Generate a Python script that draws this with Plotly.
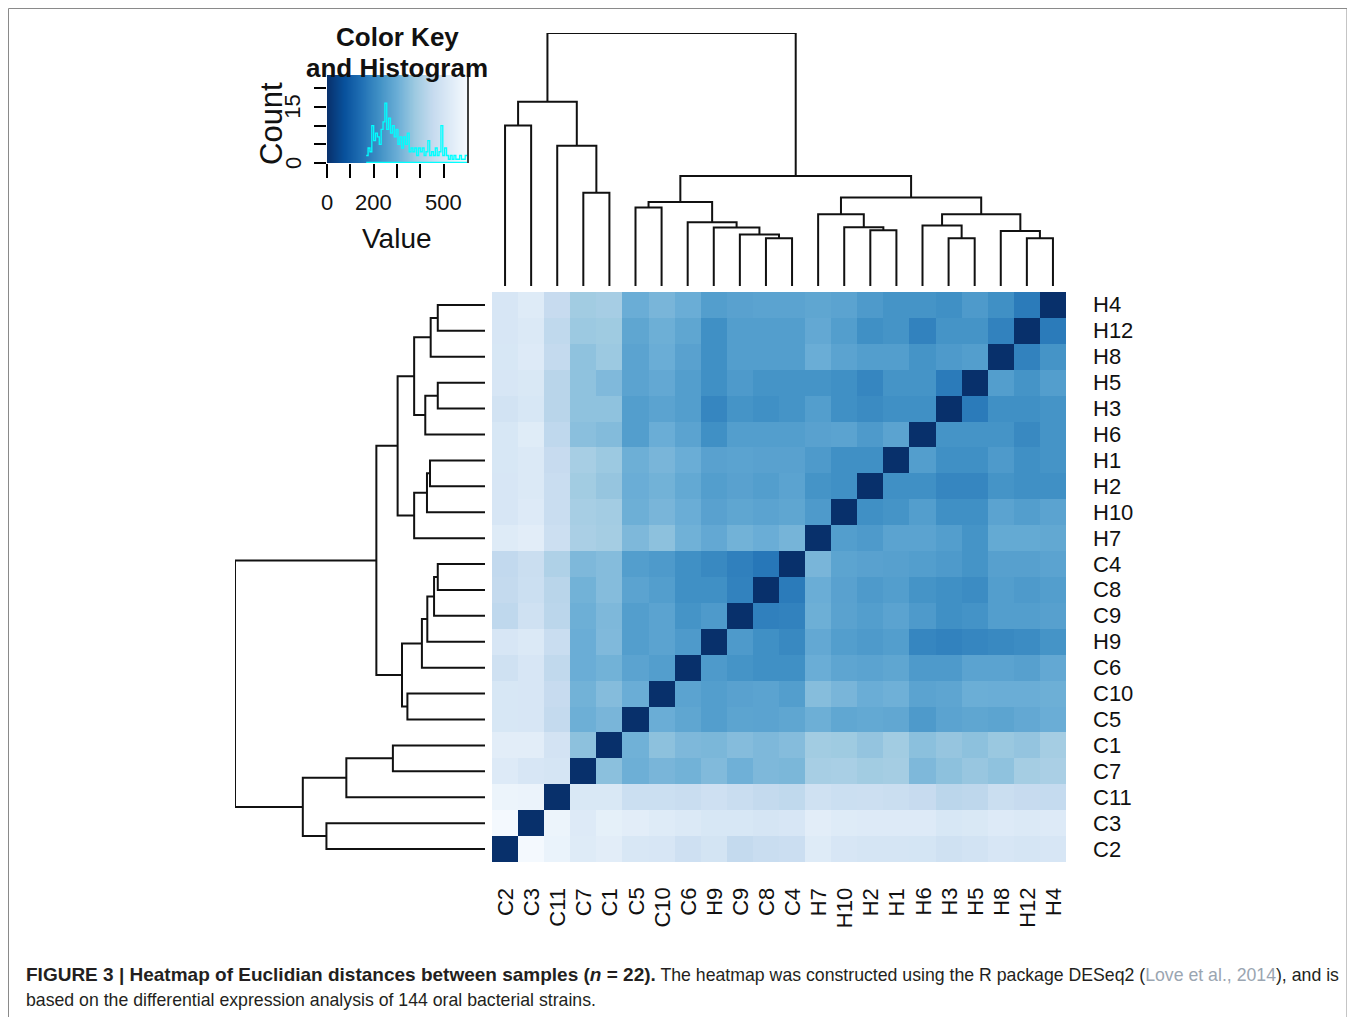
import numpy as np
import plotly.graph_objects as go

# the page body adds an 8px margin, so the figure is drawn 8px smaller and
# all reference pixel positions are shifted by that offset
OFF = 8
W, H = 1355 - OFF, 1017 - OFF

# ---------------- data ----------------
samples = ["C2", "C3", "C11", "C7", "C1", "C5", "C10", "C6", "H9", "C9", "C8", "C4",
           "H7", "H10", "H2", "H1", "H6", "H3", "H5", "H8", "H12", "H4"]

# Euclidean distances, one row per sample (columns in the same order as `samples`)
row_C2  = [0, 595, 565, 528, 540, 510, 505, 478, 495, 450, 462, 468, 528, 505, 500, 500, 498, 482, 492, 505, 500, 505]
row_C3  = [595, 0, 570, 525, 550, 540, 530, 520, 508, 508, 500, 505, 540, 530, 525, 525, 525, 508, 512, 525, 520, 525]
row_C11 = [570, 568, 0, 512, 512, 470, 470, 462, 478, 462, 450, 442, 482, 470, 473, 465, 455, 432, 437, 465, 455, 452]
row_C7  = [525, 505, 500, 0, 350, 305, 322, 312, 335, 308, 330, 326, 395, 398, 385, 390, 330, 352, 368, 355, 390, 400]
row_C1  = [540, 540, 493, 352, 0, 310, 352, 330, 325, 340, 330, 340, 385, 380, 362, 385, 350, 365, 352, 372, 362, 390]
row_C5  = [508, 505, 450, 305, 322, 0, 300, 280, 258, 275, 273, 280, 305, 282, 288, 283, 248, 273, 280, 275, 287, 300]
row_C10 = [508, 505, 455, 312, 340, 300, 0, 273, 258, 268, 273, 258, 342, 322, 300, 308, 273, 278, 302, 300, 300, 305]
row_C6  = [480, 505, 443, 300, 312, 273, 258, 0, 248, 232, 222, 222, 300, 278, 273, 280, 248, 248, 273, 273, 265, 287]
row_H9  = [505, 518, 462, 300, 333, 258, 273, 248, 0, 248, 222, 205, 287, 258, 248, 258, 200, 190, 200, 205, 212, 232]
row_C9  = [440, 482, 432, 305, 330, 258, 273, 232, 248, 0, 185, 190, 305, 270, 258, 273, 248, 222, 230, 258, 258, 265]
row_C8  = [450, 470, 428, 312, 340, 273, 258, 222, 222, 190, 0, 175, 300, 268, 248, 258, 232, 222, 212, 258, 248, 258]
row_C4  = [445, 465, 410, 330, 340, 258, 248, 222, 205, 185, 165, 0, 322, 275, 268, 265, 258, 248, 232, 265, 265, 273]
row_H7  = [528, 540, 472, 400, 390, 330, 352, 310, 287, 312, 300, 318, 0, 258, 248, 273, 273, 258, 232, 290, 290, 285]
row_H10 = [505, 525, 462, 395, 386, 305, 322, 300, 268, 280, 273, 280, 248, 0, 222, 232, 258, 222, 222, 273, 258, 273]
row_H2  = [505, 520, 462, 385, 365, 300, 312, 288, 258, 268, 258, 273, 232, 222, 0, 222, 222, 200, 200, 232, 222, 222]
row_H1  = [508, 518, 455, 395, 375, 305, 322, 300, 268, 273, 268, 268, 248, 222, 222, 0, 258, 222, 222, 248, 222, 232]
row_H6  = [508, 532, 440, 348, 338, 258, 300, 273, 222, 258, 258, 258, 268, 273, 248, 273, 0, 232, 232, 232, 205, 232]
row_H3  = [490, 508, 428, 355, 355, 258, 273, 258, 200, 232, 222, 232, 258, 222, 210, 222, 222, 0, 175, 222, 222, 232]
row_H5  = [505, 512, 428, 355, 333, 273, 287, 258, 222, 248, 232, 232, 232, 222, 200, 232, 232, 175, 0, 258, 232, 258]
row_H8  = [508, 525, 450, 355, 375, 273, 300, 268, 222, 258, 258, 258, 300, 273, 258, 258, 232, 248, 258, 0, 190, 232]
row_H12 = [505, 518, 442, 375, 380, 280, 305, 280, 222, 258, 258, 258, 287, 258, 222, 232, 190, 232, 232, 190, 0, 175]
row_H4  = [505, 528, 455, 385, 393, 300, 322, 300, 258, 268, 273, 273, 280, 273, 248, 232, 232, 222, 248, 222, 175, 0]

# hierarchical clustering merges (int = index of an earlier merge)
merge_a = ["C2", "C7", "C11", 0, "C5", "C8", "C9", "H9", "C6", 4, "H2", "H10", "H7",
           "H3", "H6", "H12", "H8", 14, 12, 9, 3]
merge_b = ["C3", "C1", 1, 2, "C10", "C4", 5, 6, 7, 8, "H1", 10, 11,
           "H5", 13, "H4", 15, 16, 17, 18, 19]
merge_h = [470, 273, 411, 540, 230, 140, 151, 171, 187, 246, 163, 172, 210,
           140, 177, 140, 161, 210, 259, 322, 741]

# colour-key histogram (counts per bin of the distance values)
hist_edges = [168, 176, 184, 192, 200, 208, 216, 224, 232, 240, 248, 256, 264, 272, 280,
              288, 296, 304, 312, 320, 328, 336, 344, 352, 360, 368, 376, 384, 392, 400,
              408, 416, 424, 432, 440, 448, 456, 464, 472, 480, 488, 496, 504, 512, 520,
              528, 536, 544, 552, 560, 568, 576, 584, 592, 600]
hist_counts = [2, 4, 3, 10, 6, 8, 7, 5, 9, 11, 16, 9, 12, 8, 10, 7, 9, 5, 7, 4, 7, 5, 8, 3,
               4, 3, 4, 2, 4, 3, 4, 2, 3, 6, 2, 3, 2, 4, 2, 3, 10, 2, 4, 2, 1, 2, 1, 2, 1,
               1, 2, 1, 1, 2]

key_ticks = [0, 100, 200, 300, 400, 500]
key_tick_text = ["0", "", "200", "", "", "500"]
count_ticks = [0, 5, 10, 15, 20]
count_tick_text = ["0", "", "", "15", ""]
ZMAX = 604

blues_r = ["#08306B", "#08519C", "#2171B5", "#4292C6", "#6BAED6",
           "#9ECAE1", "#C6DBEF", "#DEEBF7", "#F7FBFF"]
colorscale = [[i / 8, c] for i, c in enumerate(blues_r)]

# ---------------- helpers ----------------
def px_x(p):
    return (p - OFF) / W

def px_y(p):
    return 1 - (p - OFF) / H

z = [row_C2, row_C3, row_C11, row_C7, row_C1, row_C5, row_C10, row_C6, row_H9, row_C9, row_C8,
     row_C4, row_H7, row_H10, row_H2, row_H1, row_H6, row_H3, row_H5, row_H8, row_H12, row_H4]

# dendrogram segments
pos = {s: i for i, s in enumerate(samples)}
node_x, node_h = [], []
seg_pos, seg_h = [], []


def get(c):
    if isinstance(c, int):
        return node_x[c], node_h[c]
    return pos[c], 0.0


for a, b, h in zip(merge_a, merge_b, merge_h):
    xa, ha = get(a)
    xb, hb = get(b)
    seg_pos += [xa, xa, xb, xb, None]
    seg_h += [ha, h, h, hb, None]
    node_x.append((xa + xb) / 2)
    node_h.append(h)

FONT = "Liberation Sans, Arial, sans-serif"
INK = "#111111"
LINE = dict(color=INK, width=2)

# layout geometry (reference pixels)
HM_L, HM_R, HM_T, HM_B = 492, 1066, 292, 862
TD_T, TD_B = 33, 286
LD_L, LD_R = 235, 485
K_L, K_R, K_T, K_B = 327, 468, 75, 163

fig = go.Figure()

fig.add_trace(go.Heatmap(
    z=z, x=list(range(len(samples))), y=list(range(len(samples))),
    colorscale=colorscale, zmin=0, zmax=ZMAX, showscale=False,
    xaxis="x", yaxis="y", hoverinfo="skip"))

fig.add_trace(go.Scatter(x=seg_pos, y=seg_h, mode="lines", line=LINE,
                         xaxis="x2", yaxis="y2", hoverinfo="skip", showlegend=False))
fig.add_trace(go.Scatter(x=seg_h, y=seg_pos, mode="lines", line=LINE,
                         xaxis="x3", yaxis="y3", hoverinfo="skip", showlegend=False))

key_vals = np.linspace(0, ZMAX, 256)
fig.add_trace(go.Heatmap(z=[key_vals, key_vals], x=key_vals, y=[0, 23.5],
                         colorscale=colorscale, zmin=0, zmax=ZMAX, showscale=False,
                         xaxis="x4", yaxis="y4", hoverinfo="skip"))
fig.add_trace(go.Scatter(x=hist_edges, y=hist_counts + [hist_counts[-1]], mode="lines",
                         line=dict(color="#00FFFF", width=1.3, shape="hv"),
                         xaxis="x4", yaxis="y4", hoverinfo="skip", showlegend=False))
fig.add_trace(go.Scatter(x=[hist_edges[0], hist_edges[-1]], y=[0.15, 0.15], mode="lines",
                         line=dict(color="#00FFFF", width=1.3),
                         xaxis="x4", yaxis="y4", hoverinfo="skip", showlegend=False))

n = len(samples)
hidden = dict(showgrid=False, zeroline=False, showticklabels=False, ticks="", showline=False)

fig.update_layout(
    width=W, height=H, margin=dict(l=0, r=0, t=0, b=0),
    paper_bgcolor="white", plot_bgcolor="rgba(0,0,0,0)", showlegend=False,
    xaxis=dict(domain=[px_x(HM_L), px_x(HM_R)], range=[-0.5, n - 0.5], anchor="y", **hidden),
    yaxis=dict(domain=[px_y(HM_B), px_y(HM_T)], range=[-0.5, n - 0.5], anchor="x", **hidden),
    xaxis2=dict(domain=[px_x(HM_L), px_x(HM_R)], range=[-0.5, n - 0.5], anchor="y2", **hidden),
    yaxis2=dict(domain=[px_y(TD_B), px_y(TD_T)], range=[0, merge_h[-1]], anchor="x2", **hidden),
    xaxis3=dict(domain=[px_x(LD_L), px_x(LD_R)], range=[merge_h[-1], 0], anchor="y3", **hidden),
    yaxis3=dict(domain=[px_y(HM_B), px_y(HM_T)], range=[-0.5, n - 0.5], anchor="x3", **hidden),
    xaxis4=dict(domain=[px_x(K_L), px_x(K_R)], range=[0, ZMAX], anchor="y4",
                showgrid=False, zeroline=False, showticklabels=False, showline=False,
                ticks="outside", ticklen=14, tickwidth=1.5, tickcolor="black",
                tickvals=key_ticks),
    yaxis4=dict(domain=[px_y(K_B), px_y(K_T)], range=[0, 23.5], anchor="x4",
                showgrid=False, zeroline=False, showticklabels=False, showline=False,
                ticks="outside", ticklen=12, tickwidth=1.5, tickcolor="black",
                tickvals=count_ticks),
)

shapes = [
    dict(type="rect", xref="paper", yref="paper", x0=px_x(8.5), x1=px_x(1347), y0=px_y(1040), y1=px_y(8.5),
         line=dict(color="#8a8a8a", width=1), fillcolor="rgba(0,0,0,0)"),
    dict(type="line", xref="paper", yref="paper", x0=px_x(K_R), x1=px_x(K_R), y0=px_y(K_B), y1=px_y(K_T + 2),
         line=dict(color="black", width=1.5)),
]

ann = []
cw = (HM_R - HM_L) / n
for i, s in enumerate(samples):
    # row labels (right side)
    ann.append(dict(x=px_x(1091), y=px_y(HM_B - (i + 0.5) * (HM_B - HM_T) / n), xref="paper", yref="paper",
                    text=s, showarrow=False, xanchor="left", yanchor="middle",
                    font=dict(family=FONT, size=22, color=INK)))
    # column labels (bottom, rotated)
    ann.append(dict(x=px_x(HM_L + (i + 0.5) * cw), y=px_y(886), xref="paper", yref="paper",
                    text=s, showarrow=False, xanchor="center", yanchor="top", textangle=-90,
                    font=dict(family=FONT, size=22, color=INK)))

# colour key texts
ann.append(dict(x=px_x(397), y=px_y(37), xref="paper", yref="paper", text="<b>Color Key</b>",
                showarrow=False, xanchor="center", yanchor="middle",
                font=dict(family=FONT, size=26, color=INK)))
ann.append(dict(x=px_x(397), y=px_y(68), xref="paper", yref="paper", text="<b>and Histogram</b>",
                showarrow=False, xanchor="center", yanchor="middle",
                font=dict(family=FONT, size=26, color=INK)))
for v, t in zip(key_ticks, key_tick_text):
    if t:
        ann.append(dict(x=px_x(K_L + v / ZMAX * (K_R - K_L)), y=px_y(203), xref="paper", yref="paper",
                        text=t, showarrow=False, xanchor="center", yanchor="middle",
                        font=dict(family=FONT, size=22, color=INK)))
for v, t in zip(count_ticks, count_tick_text):
    if t:
        ann.append(dict(x=px_x(293), y=px_y(K_B - v / 23.5 * (K_B - K_T)), xref="paper", yref="paper",
                        text=t, showarrow=False, xanchor="center", yanchor="middle", textangle=-90,
                        font=dict(family=FONT, size=22, color=INK)))
ann.append(dict(x=px_x(397), y=px_y(238), xref="paper", yref="paper", text="Value",
                showarrow=False, xanchor="center", yanchor="middle",
                font=dict(family=FONT, size=28, color=INK)))
ann.append(dict(x=px_x(272), y=px_y(124), xref="paper", yref="paper", text="Count",
                showarrow=False, xanchor="center", yanchor="middle", textangle=-90,
                font=dict(family=FONT, size=31, color=INK)))

# caption
ann.append(dict(x=px_x(24), y=px_y(974), xref="paper", yref="paper", showarrow=False,
                xanchor="left", yanchor="middle",
                text=("<span style='font-size:19px'><b>FIGURE 3 | Heatmap of Euclidian distances between samples "
                      "(<i>n</i> = 22).</b></span>"
                      " The heatmap was constructed using the R package DESeq2 "
                      "(<span style='color:#9aa5b1'>Love et al., 2014</span>), and is"),
                font=dict(family=FONT, size=17.7, color="#231f20")))
ann.append(dict(x=px_x(24), y=px_y(1000), xref="paper", yref="paper", showarrow=False,
                xanchor="left", yanchor="middle",
                text="based on the differential expression analysis of 144 oral bacterial strains.",
                font=dict(family=FONT, size=17.7, color="#231f20")))

fig.update_layout(shapes=shapes, annotations=ann)
fig.write_html("out.html")
